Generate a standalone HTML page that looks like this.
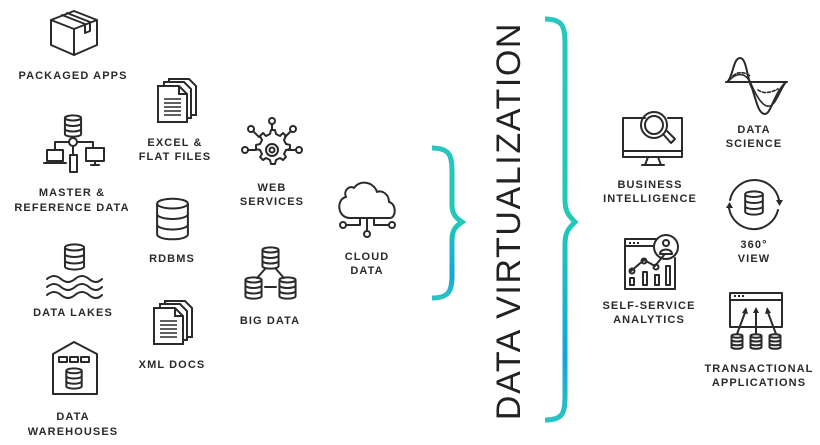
<!DOCTYPE html>
<html><head><meta charset="utf-8"><style>
html,body{margin:0;padding:0;background:#fff;}
body{width:820px;height:445px;overflow:hidden;position:relative;}
svg{position:absolute;left:0;top:0;}
text{font-family:"Liberation Sans",sans-serif;font-size:11px;letter-spacing:1.1px;fill:#2a2a2a;text-anchor:middle;font-weight:bold;}
.big{font-size:34px;letter-spacing:1.6px;font-weight:normal;fill:#222;}
.i{fill:none;stroke:#2a2a2a;stroke-width:2;stroke-linejoin:round;stroke-linecap:round;}
</style></head><body>
<svg width="820" height="445" viewBox="0 0 820 445">
<defs>
<linearGradient id="g" x1="0" y1="0" x2="0" y2="1">
<stop offset="0" stop-color="#27c6c0"/><stop offset="0.5" stop-color="#22c8b8"/><stop offset="0.85" stop-color="#12a6da"/><stop offset="1" stop-color="#2ac3c4"/>
</linearGradient>
<symbol id="db" viewBox="0 0 24 30" overflow="visible">
<g fill="none" stroke="#2a2a2a" stroke-width="2" vector-effect="non-scaling-stroke">
<ellipse cx="12" cy="4" rx="11" ry="3.5" vector-effect="non-scaling-stroke"/>
<path d="M1 4V26C1 28 6 29.5 12 29.5S23 28 23 26V4" vector-effect="non-scaling-stroke"/>
<path d="M1 11.5C1 13.5 6 15 12 15S23 13.5 23 11.5M1 19C1 21 6 22.5 12 22.5S23 21 23 19" vector-effect="non-scaling-stroke"/>
</g></symbol>
<symbol id="doc" viewBox="0 0 40 45" overflow="visible">
<g fill="#fff" stroke="#2a2a2a" stroke-width="2">
<path d="M12 1H32L39 8V37H12Z"/><path d="M7 4H27L34 11V40H7Z"/><path d="M1 8H22L30 16V44H1Z"/>
<path d="M22 8V16H30" fill="none"/>
<path d="M7 21H24M7 25H24M7 29H24M7 33H24M7 37H24" stroke-width="1.6"/>
</g></symbol>
</defs>

<path d="M432 148C450 148 452 156 452 172V205C452 214 456 218 462 222C456 226 452 230 452 240V274C452 290 450 298 432 298" fill="none" stroke="url(#g)" stroke-width="5"/>
<path d="M545 19C563 19 565 27 565 44V200C565 212 569 216 575 222C569 228 565 232 565 244V396C565 413 563 420 545 420" fill="none" stroke="url(#g)" stroke-width="5"/>

<text class="big" transform="translate(520,221) rotate(-90)">DATA VIRTUALIZATION</text>

<g class="i">
<path d="M51 20L74 11L97 20V45L74 55L51 45Z"/><path d="M51 20L74 29L97 20M74 29V55"/>
<path d="M62 15L85 24V33L90 31L90 22L67 13"/>
</g>
<text x="73" y="79">PACKAGED APPS</text>

<use href="#doc" x="157" y="78" width="40" height="45"/>
<text x="175" y="146">EXCEL &amp;</text><text x="175" y="160">FLAT FILES</text>

<use href="#db" x="64" y="115" width="18" height="22"/>
<g class="i">
<circle cx="73" cy="142" r="4"/>
<path d="M73 137V138M69 142H55V150M77 142H93V148M73 146V155"/>
<rect x="47" y="150" width="16" height="11"/><path d="M44 163H66"/>
<rect x="70" y="155" width="7" height="17"/>
<rect x="86" y="148" width="18" height="13"/><path d="M95 161V164M91 165H99"/>
</g>
<text x="72" y="196">MASTER &amp;</text><text x="72" y="211">REFERENCE DATA</text>

<g class="i">
<path d="M272 130l3 0 1 4 4 2 3-3 3 3-2 4 2 4 4 1v4l-4 1-2 4 2 3-3 3-3-2-4 2-1 4h-4l-1-4-4-2-3 2-3-3 2-3-2-4-4-1v-4l4-1 2-4-2-4 3-3 3 3 4-2 1-4z"/>
<circle cx="272" cy="150" r="6"/><circle cx="272" cy="150" r="2.5"/>
<path d="M272 130V124M259 137L253 131M285 137L291 131M256 150H248M288 150H296"/>
<circle cx="272" cy="121" r="3"/><circle cx="251" cy="129" r="3"/><circle cx="293" cy="129" r="3"/><circle cx="245" cy="150" r="3"/><circle cx="299" cy="150" r="3"/>
</g>
<text x="272" y="191">WEB</text><text x="272" y="205">SERVICES</text>

<use href="#db" x="152" y="198" width="41" height="42"/>
<text x="172" y="262">RDBMS</text>

<g class="i">
<path d="M350 218H390C396 218 397 204 389 202C389 194 382 190 377 192C374 182 360 179 354 188C350 185 343 190 346 197C336 199 337 218 350 218Z"/>
<path d="M360 218V225H346M367 218V231M374 218V225H389"/>
<circle cx="343" cy="225" r="3"/><circle cx="367" cy="234" r="3"/><circle cx="392" cy="225" r="3"/>
</g>
<text x="367" y="260">CLOUD</text><text x="367" y="274">DATA</text>

<use href="#db" x="259" y="247" width="23" height="22"/>
<use href="#db" x="242" y="277" width="23" height="22"/>
<use href="#db" x="276" y="277" width="23" height="22"/>
<g class="i"><path d="M265 269L257 278M276 269L284 278M265 287H276"/></g>
<text x="270" y="324">BIG DATA</text>

<use href="#db" x="62" y="244" width="25" height="26"/>
<g class="i">
<path d="M47 279q7-6 14 0t14 0t14 0t13 0M47 287q7-6 14 0t14 0t14 0t13 0M47 295q7-6 14 0t14 0t14 0t13 0"/>
</g>
<text x="73" y="316">DATA LAKES</text>

<use href="#doc" x="153" y="300" width="40" height="45"/>
<text x="172" y="368">XML DOCS</text>

<g class="i">
<path d="M53 354L74 342L97 354V394H53Z"/>
<rect x="59" y="357" width="8" height="5"/><rect x="70" y="357" width="8" height="5"/><rect x="81" y="357" width="8" height="5"/>
</g>
<use href="#db" x="65" y="368" width="18" height="21"/>
<text x="73" y="420">DATA</text><text x="73" y="435">WAREHOUSES</text>

<g class="i">
<path d="M645 118H623V157H682V118H668"/><path d="M623 151H682"/>
<path d="M648 157L645 165H661L658 157M642 165H664"/>
<circle cx="654" cy="125" r="13"/><circle cx="654" cy="125" r="9"/>
<path d="M663 134L671 143L675 139L667 131"/>
</g>
<text x="650" y="188">BUSINESS</text><text x="650" y="202">INTELLIGENCE</text>

<g class="i">
<path d="M726 82H787"/>
<path d="M727 82C733 78 733 58 740 58C747 58 747 80 752 88C757 104 759 114 765 114C771 114 773 95 786 82"/>
<path d="M728 82C733 75 745 68 752 86C756 95 763 108 770 106C776 104 780 90 786 82" stroke-width="1.6"/>
<path d="M733 76C738 71 745 72 750 76M758 90C764 94 770 93 778 89" stroke-dasharray="3 2" stroke-width="1.6"/>
</g>
<text x="754" y="133">DATA</text><text x="754" y="147">SCIENCE</text>

<g class="i">
<path d="M730 200A25 25 0 0 1 779 200"/><path d="M729 208A25 25 0 0 0 778 210"/>
</g>
<g fill="#2a2a2a"><path d="M726 208h7l-3.5-6z"/><path d="M776 200h7l-3.5 6z"/></g>
<use href="#db" x="744" y="191" width="20" height="24"/>
<text x="754" y="248">360°</text><text x="754" y="262">VIEW</text>

<g class="i">
<path d="M656 239H625V289H675V258"/><path d="M625 246H653"/>
<circle cx="666" cy="247" r="12"/><circle cx="666" cy="243" r="3"/><path d="M660 254C660 248 672 248 672 254Z"/>
<path d="M631 271L644 260L655 266L664 255"/>
<circle cx="632" cy="271" r="2.5"/><circle cx="644" cy="261" r="2.5"/><circle cx="656" cy="267" r="2.5"/>
<rect x="630" y="278" width="4" height="7"/><rect x="643" y="272" width="4" height="13"/><rect x="655" y="275" width="4" height="10"/><rect x="666" y="266" width="4" height="19"/>
</g>
<g fill="#2a2a2a"><rect x="629" y="242" width="2" height="2"/><rect x="633" y="242" width="2" height="2"/><rect x="637" y="242" width="2" height="2"/></g>
<text x="649" y="309">SELF-SERVICE</text><text x="649" y="323">ANALYTICS</text>

<g class="i">
<rect x="730" y="293" width="52" height="34"/><path d="M730 300H782"/>
<path d="M737 334L746 310M756 334V310M776 334L767 310"/>
</g>
<g fill="#2a2a2a"><path d="M746 307l-4 6 6 1z"/><path d="M756 307l-3 6h6z"/><path d="M767 307l-2 7 6-1z"/>
<rect x="734" y="295" width="2" height="2"/><rect x="738" y="295" width="2" height="2"/><rect x="742" y="295" width="2" height="2"/></g>
<use href="#db" x="730" y="334" width="14" height="15"/>
<use href="#db" x="749" y="334" width="14" height="15"/>
<use href="#db" x="768" y="334" width="14" height="15"/>
<text x="759" y="372">TRANSACTIONAL</text><text x="759" y="386">APPLICATIONS</text>
</svg>
</body></html>
